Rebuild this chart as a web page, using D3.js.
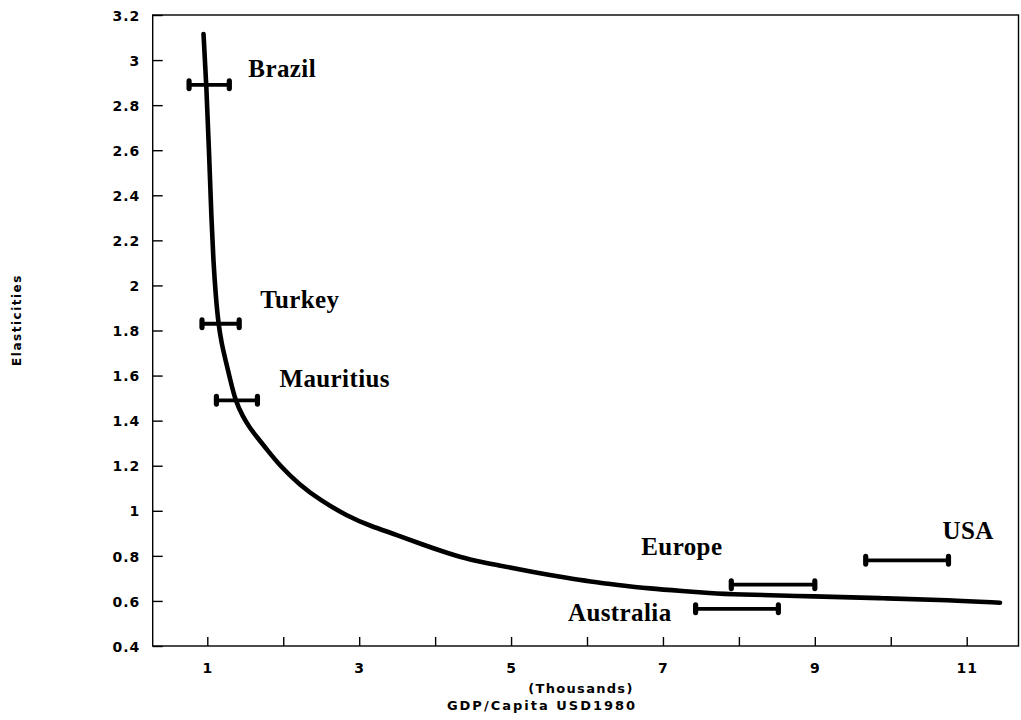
<!DOCTYPE html>
<html>
<head>
<meta charset="utf-8">
<script src="https://cdn.jsdelivr.net/npm/d3@7"></script>
<style>
  html, body { margin: 0; padding: 0; background: #fff; }
  svg { display: block; }
</style>
</head>
<body>
<script>
// Fitted elasticity curve against GDP per capita (thousands of 1980 USD)
const curveGdp = [0.950, 0.989, 1.022, 1.055, 1.079, 1.112, 1.147, 1.187, 1.240, 1.306,
  1.371, 1.470, 1.562, 1.654, 1.759, 1.957, 2.221, 2.484, 2.840,
  3.143, 3.498, 3.841, 4.157, 4.460, 4.855, 5.289, 5.737, 6.039, 6.395,
  6.829, 7.264, 7.619, 7.922, 9.028, 9.897, 10.780, 11.438];
const curveElasticity = [3.116, 2.881, 2.601, 2.290, 2.113, 1.949, 1.829, 1.745, 1.669, 1.576,
  1.487, 1.416, 1.367, 1.327, 1.283, 1.199, 1.114, 1.048, 0.977,
  0.933, 0.893, 0.849, 0.813, 0.782, 0.757, 0.728, 0.702, 0.686, 0.671,
  0.655, 0.644, 0.635, 0.629, 0.620, 0.612, 0.604, 0.592];

// Country / region estimates: GDP range and elasticity
const regions = ["Brazil", "Turkey", "Mauritius", "Europe", "USA", "Australia"];
const gdpLow = [0.76, 0.93, 1.12, 7.90, 9.67, 7.43];
const gdpHigh = [1.29, 1.42, 1.66, 9.00, 10.76, 8.52];
const regionElasticity = [2.89, 1.83, 1.49, 0.672, 0.78, 0.565];

// Axis ticks
const xTicks = [1, 2, 3, 4, 5, 6, 7, 8, 9, 10, 11];
const xTickLabels = ["1", "", "3", "", "5", "", "7", "", "9", "", "11"];
const yTicks = [0.4, 0.6, 0.8, 1, 1.2, 1.4, 1.6, 1.8, 2, 2.2, 2.4, 2.6, 2.8, 3, 3.2];
const yTickLabels = ["0.4", "0.6", "0.8", "1", "1.2", "1.4", "1.6", "1.8", "2", "2.2", "2.4", "2.6", "2.8", "3", "3.2"];

const yTitle = "Elasticities";
const xTitleTop = "(Thousands)";
const xTitleBottom = "GDP/Capita USD1980";

// ---- layout ----
const W = 1021, H = 720;
const plot = { left: 152.7, right: 1018.5, top: 15, bottom: 646 };
const axisFont = "'DejaVu Sans', Verdana, sans-serif";
const labelFont = "'Liberation Serif', 'Times New Roman', serif";

const x = d3.scaleLinear().domain([0.281, 11.682]).range([plot.left, plot.right]);
const y = d3.scaleLinear().domain([0.4, 3.2]).range([plot.bottom, plot.top]);

const svg = d3.select("body").append("svg")
  .attr("width", W).attr("height", H)
  .attr("viewBox", `0 0 ${W} ${H}`);

// Bottom axis with inward ticks
const xAxis = svg.append("g")
  .attr("transform", `translate(0,${plot.bottom})`)
  .call(d3.axisBottom(x).tickValues(xTicks).tickSize(-9).tickSizeOuter(0)
    .tickFormat((d, i) => xTickLabels[i]));
xAxis.select(".domain").remove();
xAxis.selectAll(".tick line").attr("stroke", "#000").attr("stroke-width", 1.4);
xAxis.selectAll(".tick text")
  .attr("y", 27).attr("dy", 0)
  .attr("font-family", axisFont).attr("font-weight", "bold")
  .attr("font-size", 14).attr("letter-spacing", "1px").attr("fill", "#000");

// Left axis with inward ticks
const yAxis = svg.append("g")
  .attr("transform", `translate(${plot.left},0)`)
  .call(d3.axisLeft(y).tickValues(yTicks).tickSize(-10).tickSizeOuter(0)
    .tickFormat((d, i) => yTickLabels[i]));
yAxis.select(".domain").remove();
yAxis.selectAll(".tick line").attr("stroke", "#000").attr("stroke-width", 1.4);
yAxis.selectAll(".tick text")
  .attr("x", -12.5).attr("dy", "0.37em")
  .attr("font-family", axisFont).attr("font-weight", "bold")
  .attr("font-size", 14).attr("letter-spacing", "1px").attr("fill", "#000");

// Plot frame
svg.append("rect")
  .attr("x", plot.left).attr("y", plot.top)
  .attr("width", plot.right - plot.left).attr("height", plot.bottom - plot.top)
  .attr("fill", "none").attr("stroke", "#000").attr("stroke-width", 1.4);

// Axis titles
svg.append("text")
  .attr("transform", `translate(21,320) rotate(-90)`)
  .attr("text-anchor", "middle")
  .attr("font-family", axisFont).attr("font-weight", "bold")
  .attr("font-size", 12).attr("letter-spacing", "1.5px")
  .text(yTitle);

svg.append("text")
  .attr("x", 581).attr("y", 693)
  .attr("text-anchor", "middle")
  .attr("font-family", axisFont).attr("font-weight", "bold")
  .attr("font-size", 13).attr("letter-spacing", "1.3px")
  .text(xTitleTop);

svg.append("text")
  .attr("x", 542).attr("y", 710)
  .attr("text-anchor", "middle")
  .attr("font-family", axisFont).attr("font-weight", "bold")
  .attr("font-size", 13).attr("letter-spacing", "2px")
  .text(xTitleBottom);

// Fitted curve
const curvePoints = curveGdp.map((g, i) => [g, curveElasticity[i]]);
const line = d3.line()
  .x(d => x(d[0])).y(d => y(d[1]))
  .curve(d3.curveBasis);
svg.append("path")
  .datum(curvePoints)
  .attr("d", line)
  .attr("fill", "none")
  .attr("stroke", "#000")
  .attr("stroke-width", 4.6)
  .attr("stroke-linecap", "round")
  .attr("stroke-linejoin", "round");

// Range bars with end caps
const bars = regions.map((name, i) => ({
  name, low: gdpLow[i], high: gdpHigh[i], e: regionElasticity[i]
}));

const barG = svg.append("g");
barG.selectAll("line.bar")
  .data(bars).join("line")
  .attr("class", "bar")
  .attr("x1", d => x(d.low)).attr("x2", d => x(d.high))
  .attr("y1", d => y(d.e)).attr("y2", d => y(d.e))
  .attr("stroke", "#000").attr("stroke-width", 3.8);

const caps = bars.flatMap(d => [{ g: d.low, e: d.e }, { g: d.high, e: d.e }]);
barG.selectAll("rect.cap")
  .data(caps).join("rect")
  .attr("class", "cap")
  .attr("x", d => x(d.g) - 2.6).attr("y", d => y(d.e) - 6.5)
  .attr("width", 5.2).attr("height", 13)
  .attr("rx", 2.6).attr("ry", 3)
  .attr("fill", "#000");

// Region labels placed relative to their bars
const labelLayout = {
  Brazil:    { end: "high", dx: 19,  dy: -7.5, anchor: "start" },
  Turkey:    { end: "high", dx: 21,  dy: -15.5, anchor: "start" },
  Mauritius: { end: "high", dx: 22,  dy: -13.5, anchor: "start" },
  Europe:    { end: "low",  dx: -90, dy: -29.5, anchor: "start" },
  USA:       { end: "high", dx: -6,  dy: -21.5, anchor: "start" },
  Australia: { end: "low",  dx: -24, dy: 12.5, anchor: "end" }
};

svg.append("g").selectAll("text")
  .data(bars).join("text")
  .attr("x", d => x(d[labelLayout[d.name].end]) + labelLayout[d.name].dx)
  .attr("y", d => y(d.e) + labelLayout[d.name].dy)
  .attr("text-anchor", d => labelLayout[d.name].anchor)
  .attr("font-family", labelFont).attr("font-weight", "bold")
  .attr("font-size", 25).attr("letter-spacing", "0.4px")
  .attr("fill", "#000")
  .text(d => d.name);
</script>
</body>
</html>
